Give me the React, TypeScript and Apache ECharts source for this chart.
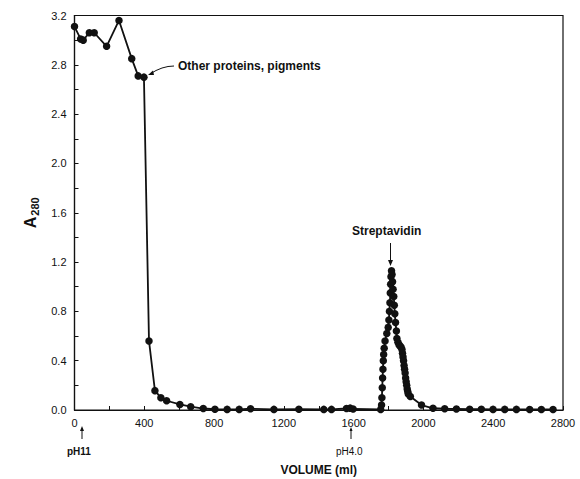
import React, { useEffect, useRef } from "react";
import * as echarts from "echarts";

// Elution volume (ml) and absorbance at 280 nm
const volumeMl = [
  0, 35, 50, 85, 113, 184, 255, 328, 365, 398,
  427, 461, 495, 528, 604, 666, 738, 805, 875, 944,
  1009, 1143, 1286, 1429, 1473, 1559, 1580, 1597, 1755,
  1760, 1762, 1764, 1766, 1768, 1770, 1772, 1775, 1780, 1790,
  1798, 1802, 1805, 1808, 1810, 1812, 1814, 1817,
  1820, 1823, 1826, 1830, 1833, 1836, 1840, 1845, 1848, 1854,
  1860, 1866, 1872, 1877, 1880, 1883, 1886, 1889, 1892, 1895,
  1898, 1901, 1904, 1907, 1910, 1913,
  1925, 1989, 2055, 2122, 2189, 2265, 2332, 2399, 2466, 2533,
  2609, 2676, 2743,
];
const absorbance = [
  3.11, 3.01, 3.0, 3.06, 3.06, 2.95, 3.16, 2.85, 2.71, 2.7,
  0.56, 0.157, 0.1, 0.075, 0.045, 0.027, 0.012, 0.006, 0.005, 0.005,
  0.01, 0.005, 0.006, 0.005, 0.005, 0.012, 0.015, 0.008, 0.005,
  0.04, 0.1, 0.18, 0.26, 0.33, 0.4, 0.45, 0.5, 0.56, 0.62,
  0.67, 0.73, 0.8, 0.87, 0.95, 1.02, 1.08, 1.13,
  1.1, 1.04, 0.98, 0.92, 0.85, 0.78, 0.71, 0.64, 0.58, 0.55,
  0.53, 0.52, 0.51, 0.49, 0.46, 0.43, 0.4, 0.36, 0.33, 0.3,
  0.26, 0.23, 0.2, 0.17, 0.15, 0.13,
  0.11, 0.04, 0.014, 0.01, 0.008, 0.006, 0.006, 0.005, 0.005, 0.005,
  0.004, 0.004, 0.004,
];

const xTickStep = 200;
const xLabelStep = 400;
const yTickStep = 0.2;
const yLabelStep = 0.4;

const INK = "#111";
const FONT = "'Liberation Sans', Arial, Helvetica, sans-serif";

export default function App() {
  const ref = useRef<HTMLDivElement>(null);

  useEffect(() => {
    document.body.style.margin = "0";
    const chart = echarts.init(ref.current!, null, { renderer: "svg" });
    const data = volumeMl.map((v, i) => [v, absorbance[i]]);

    chart.setOption({
      animation: false,
      backgroundColor: "#fff",
      textStyle: { fontFamily: FONT, color: INK },
      grid: {
        left: 74.5,
        right: 17,
        top: 15.5,
        bottom: 69,
        containLabel: false,
        outerBoundsMode: "none",
        show: true,
        borderColor: INK,
        borderWidth: 1.2,
      },
      xAxis: {
        type: "value",
        min: 0,
        max: 2800,
        interval: xTickStep,
        name: "VOLUME (ml)",
        nameLocation: "middle",
        nameGap: 54,
        nameTextStyle: { fontSize: 12, fontWeight: "bold", color: INK, fontFamily: FONT },
        axisLine: { lineStyle: { color: INK, width: 1.2 } },
        axisTick: { inside: true, length: 4, lineStyle: { color: INK, width: 1 } },
        axisLabel: {
          color: INK,
          fontSize: 11,
          fontFamily: FONT,
          margin: 7,
          interval: 0,
          showMinLabel: true,
          showMaxLabel: true,
          hideOverlap: false,
          formatter: (v: number) => (Math.round(v) % xLabelStep === 0 ? String(Math.round(v)) : ""),
        },
        splitLine: { show: false },
      },
      yAxis: {
        type: "value",
        min: 0,
        max: 3.2,
        interval: yTickStep,
        name: "{a|A}{b|280}",
        nameLocation: "middle",
        nameRotate: 90,
        nameGap: 34,
        nameTextStyle: {
          rich: {
            a: { fontSize: 16, fontWeight: "bold", color: INK, fontFamily: FONT, lineHeight: 20 },
            b: { fontSize: 11, fontWeight: "bold", color: INK, fontFamily: FONT, lineHeight: 20, padding: [9, 0, 0, 1] },
          },
        },
        axisLine: { lineStyle: { color: INK, width: 1.2 } },
        axisTick: { inside: true, length: 4, lineStyle: { color: INK, width: 1 } },
        axisLabel: {
          color: INK,
          fontSize: 11,
          fontFamily: FONT,
          margin: 8,
          showMinLabel: true,
          showMaxLabel: true,
          formatter: (v: number) =>
            Math.round(v * 10) % Math.round(yLabelStep * 10) === 0 ? v.toFixed(1) : "",
        },
        splitLine: { show: false },
      },
      series: [
        {
          type: "line",
          data,
          symbol: "circle",
          symbolSize: 7.5,
          itemStyle: { color: INK },
          lineStyle: { color: INK, width: 1.8 },
        },
      ],
      graphic: [
        {
          type: "text",
          left: 178,
          top: 60,
          style: { text: "Other proteins, pigments", fontSize: 12, fontWeight: "bold", fill: INK, fontFamily: FONT },
        },
        {
          type: "bezierCurve",
          shape: { x1: 174, y1: 66, x2: 150, y2: 74, cpx1: 162, cpy1: 66 },
          style: { stroke: INK, lineWidth: 1, fill: null },
        },
        {
          type: "polygon",
          shape: { points: [[148, 75], [153, 70.5], [154, 75]] },
          style: { fill: INK },
        },
        {
          type: "text",
          left: 352,
          top: 225,
          style: { text: "Streptavidin", fontSize: 12, fontWeight: "bold", fill: INK, fontFamily: FONT },
        },
        {
          type: "line",
          shape: { x1: 390.5, y1: 243, x2: 390.5, y2: 262 },
          style: { stroke: INK, lineWidth: 1 },
        },
        {
          type: "polygon",
          shape: { points: [[388, 260], [393, 260], [390.5, 266]] },
          style: { fill: INK },
        },
        {
          type: "line",
          shape: { x1: 82, x2: 82, y1: 429, y2: 439 },
          style: { stroke: INK, lineWidth: 1 },
        },
        {
          type: "polygon",
          shape: { points: [[80, 431], [84, 431], [82, 426]] },
          style: { fill: INK },
        },
        {
          type: "text",
          left: 67,
          top: 446,
          style: { text: "pH11", fontSize: 10, fontWeight: "bold", fill: INK, fontFamily: FONT },
        },
        {
          type: "line",
          shape: { x1: 351, x2: 351, y1: 429, y2: 439 },
          style: { stroke: INK, lineWidth: 1 },
        },
        {
          type: "polygon",
          shape: { points: [[349.5, 431], [352.5, 431], [351, 427]] },
          style: { fill: INK },
        },
        {
          type: "text",
          left: 336,
          top: 446,
          style: { text: "pH4.0", fontSize: 10, fill: INK, fontFamily: FONT },
        },
      ],
    });

    return () => chart.dispose();
  }, []);

  return <div ref={ref} style={{ width: 580, height: 479 }} />;
}
